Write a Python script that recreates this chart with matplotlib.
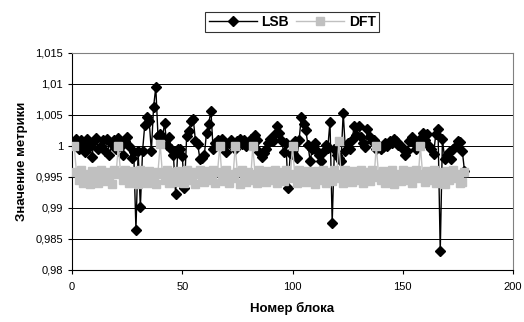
import matplotlib
matplotlib.use("Agg")
import matplotlib.pyplot as plt
from matplotlib.ticker import FuncFormatter, MultipleLocator

plt.rcParams['font.family'] = ['Liberation Sans', 'DejaVu Sans']

# ---- data ----
lsb = [
    1.0005, 1.0012, 0.9995, 1.0010, 1.0000, 0.9990, 1.0012, 1.0000, 0.9982, 1.0008,
    1.0013, 0.9995, 1.0000, 1.0010, 0.9992, 1.0012, 0.9985, 1.0003, 1.0010, 0.9995,
    1.0013, 1.0000, 0.9985, 1.0008, 1.0015, 1.0000, 0.9980, 0.9990, 0.9865, 0.9992,
    0.9901, 0.9992, 1.0034, 1.0046, 1.0040, 0.9992, 1.0063, 1.0095, 1.0016, 1.0019,
    1.0013, 1.0037, 1.0002, 1.0015, 0.9995, 0.9985, 0.9922, 0.9995, 0.9995, 0.9984,
    0.9932, 1.0016, 1.0024, 1.0041, 1.0043, 1.0008, 1.0003, 0.9979, 0.9980, 0.9985,
    1.0021, 1.0036, 1.0057, 0.9995, 1.0005, 1.0010, 1.0008, 1.0012, 1.0000, 0.9990,
    1.0005, 1.0010, 1.0005, 0.9995, 1.0008, 1.0012, 1.0003, 1.0010, 1.0000, 1.0005,
    1.0012, 1.0008, 1.0018, 1.0010, 0.9990, 0.9982, 0.9988, 0.9995, 1.0005, 1.0012,
    1.0008, 1.0019, 1.0032, 1.0021, 1.0010, 0.9990, 1.0005, 0.9932, 0.9989, 0.9987,
    1.0008, 0.9981, 1.0010, 1.0047, 1.0035, 1.0026, 1.0002, 0.9976, 0.9995, 1.0005,
    0.9992, 0.9985, 0.9976, 0.9990, 1.0002, 0.9997, 1.0039, 0.9876, 0.9995, 0.9985,
    0.9980, 0.9976, 1.0054, 0.9992, 1.0005, 0.9995, 1.0010, 1.0032, 1.0018, 1.0032,
    1.0015, 1.0005, 0.9998, 1.0027, 1.0015, 1.0008, 1.0010, 0.9995, 1.0002, 0.9995,
    0.9998, 1.0005, 1.0000, 1.0008, 1.0005, 1.0011, 1.0008, 1.0002, 1.0000, 0.9995,
    0.9985, 0.9992, 1.0008, 1.0015, 1.0005, 0.9995, 1.0003, 1.0012, 1.0021, 1.0010,
    1.0019, 1.0000, 0.9995, 0.9987, 1.0020, 1.0027, 0.9830, 1.0011, 0.9979, 0.9985,
    0.9990, 0.9979, 0.9995, 1.0000, 1.0008, 1.0007, 0.9992, 0.9960,
]

dft = [
    1.0000, 0.9958, 0.9945, 0.9962, 0.9940, 0.9955, 0.9948, 0.9938, 0.9960, 0.9942,
    0.9955, 0.9940, 0.9962, 0.9948, 0.9944, 0.9958, 0.9950, 0.9938, 0.9962, 0.9955,
    1.0000, 0.9958, 0.9945, 0.9962, 0.9950, 0.9940, 0.9960, 0.9955, 0.9944, 0.9938,
    0.9962, 0.9948, 0.9955, 0.9940, 0.9960, 0.9945, 0.9952, 0.9938, 0.9958, 1.0003,
    0.9955, 0.9945, 0.9962, 0.9940, 0.9950, 0.9958, 0.9942, 0.9960, 0.9948, 0.9955,
    0.9940, 0.9962, 0.9950, 0.9945, 0.9958, 0.9938, 0.9955, 0.9962, 0.9948, 0.9942,
    0.9960, 0.9955, 0.9945, 0.9962, 0.9940, 0.9958, 1.0000, 0.9950, 0.9944, 0.9962,
    0.9940, 0.9955, 0.9948, 1.0000, 0.9958, 0.9938, 0.9962, 0.9950, 0.9942, 0.9958,
    0.9945, 1.0000, 0.9955, 0.9940, 0.9962, 0.9948, 0.9958, 0.9942, 0.9960, 0.9950,
    0.9945, 0.9962, 0.9940, 0.9955, 0.9958, 0.9944, 0.9962, 0.9950, 0.9948, 1.0000,
    0.9955, 0.9940, 0.9962, 0.9948, 0.9958, 0.9942, 0.9960, 0.9945, 0.9952, 0.9938,
    0.9960, 0.9955, 0.9945, 0.9962, 0.9940, 0.9958, 0.9950, 0.9944, 0.9962, 0.9948,
    1.0008, 0.9955, 0.9940, 0.9962, 0.9948, 0.9958, 0.9942, 0.9960, 0.9950, 0.9945,
    0.9962, 0.9940, 0.9955, 0.9958, 0.9944, 0.9962, 0.9950, 1.0000, 0.9955, 0.9945,
    0.9960, 0.9940, 0.9958, 0.9948, 0.9962, 0.9938, 0.9955, 0.9950, 0.9944, 0.9962,
    0.9958, 0.9945, 0.9960, 0.9940, 0.9955, 0.9962, 0.9948, 1.0000, 0.9955, 0.9942,
    0.9960, 0.9950, 0.9945, 0.9962, 0.9940, 0.9958, 0.9948, 0.9955, 0.9938, 0.9960,
    0.9945, 0.9958, 0.9962, 0.9948, 0.9955, 0.9940, 0.9942, 0.9958,
]

blocks = list(range(1, len(lsb) + 1))

fig = plt.figure(figsize=(5.24, 3.22), dpi=100)
ax = fig.add_axes([72 / 524, 1 - 270 / 322, 441 / 524, 217 / 322])

ax.plot(blocks, lsb, color='black', lw=1.0, marker='D', ms=5.5,
        mfc='black', mec='black', label='LSB', zorder=3)
ax.plot(blocks, dft, color='#c0c0c0', lw=1.0, marker='s', ms=6,
        mfc='#c0c0c0', mec='#c0c0c0', label='DFT', zorder=4)

ax.set_xlim(0, 200)
ax.set_ylim(0.98, 1.015)
ax.xaxis.set_major_locator(MultipleLocator(50))
ax.yaxis.set_major_locator(MultipleLocator(0.005))


def comma_fmt(v, pos):
    s = f"{v:.3f}".rstrip('0').rstrip('.')
    return s.replace('.', ',')


ax.yaxis.set_major_formatter(FuncFormatter(comma_fmt))
ax.xaxis.set_major_formatter(FuncFormatter(lambda v, p: f"{v:g}"))

ax.grid(axis='y', color='black', lw=0.7)
ax.set_axisbelow(True)
ax.tick_params(labelsize=8, length=3, width=0.8, direction='out', colors='black')
ax.tick_params(axis='x', pad=6)

for side in ['left', 'bottom']:
    ax.spines[side].set_color('black')
    ax.spines[side].set_linewidth(0.8)
for side in ['top', 'right']:
    ax.spines[side].set_color('#808080')
    ax.spines[side].set_linewidth(0.8)

ax.set_xlabel('Номер блока', fontsize=9.5, fontweight='bold', labelpad=7)
ax.set_ylabel('Значение метрики', fontsize=9.5, fontweight='bold', labelpad=5)

leg = fig.legend(loc='center', bbox_to_anchor=(292 / 524, 1 - 22 / 322), ncol=2,
                 frameon=True, fancybox=False, edgecolor='black',
                 prop={'weight': 'bold', 'size': 10}, handlelength=3.5,
                 columnspacing=0.5, handletextpad=0.3, borderpad=0.25)
leg.get_frame().set_linewidth(0.8)

fig.savefig('out.png', dpi=100)
